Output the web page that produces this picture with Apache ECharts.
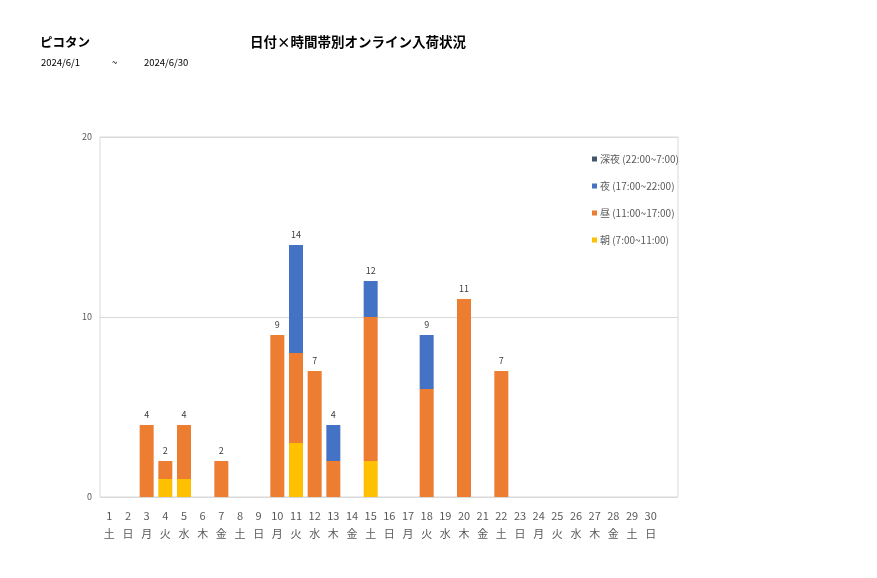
<!DOCTYPE html>
<html lang="ja">
<head>
    <meta charset="UTF-8">
    <title>ピコタン 日付×時間帯別オンライン入荷状況</title>
    <style>
        body { margin: 0; background: #fff; }
    </style>
</head>
<body>
<div id="main" style="width: 877px;height:578px;"></div>
<script src="https://cdn.jsdelivr.net/npm/echarts@6/dist/echarts.min.js"></script>
<script type="text/javascript">
    // 日付と曜日
    var days = [];
    for (var d = 1; d <= 30; d++) days.push(String(d));
    var weekdays = ['土','日','月','火','水','木','金','土','日','月','火','水','木','金','土','日','月','火','水','木','金','土','日','月','火','水','木','金','土','日'];

    // 時間帯別の件数
    var asa    = [0,0,0,1,1,0,0,0,0,0,3,0,0,0,2,0,0,0,0,0,0,0,0,0,0,0,0,0,0,0];
    var hiru   = [0,0,4,1,3,0,2,0,0,9,5,7,2,0,8,0,0,6,0,11,0,7,0,0,0,0,0,0,0,0];
    var yoru   = [0,0,0,0,0,0,0,0,0,0,6,0,2,0,2,0,0,3,0,0,0,0,0,0,0,0,0,0,0,0];
    var shinya = [0,0,0,0,0,0,0,0,0,0,0,0,0,0,0,0,0,0,0,0,0,0,0,0,0,0,0,0,0,0];

    var yTicks = [0, 10, 20];

    var totals = days.map(function (_, i) {
        return asa[i] + hiru[i] + yoru[i] + shinya[i];
    });

    var myChart = echarts.init(document.getElementById('main'));
    var txt = '#595959';
    var font = 'Noto Sans CJK JP';

    function bar(name, data, color) {
        return {
            name: name, type: 'bar', stack: 'total', data: data,
            xAxisIndex: 1, yAxisIndex: 1,
            barWidth: 14,
            itemStyle: {color: color},
            emphasis: {disabled: true}
        };
    }

    // 一番上の系列に合計値ラベルを付ける
    var topSeries = bar('深夜 (22:00~7:00)', shinya, '#44546A');
    topSeries.label = {
        show: true, position: 'top', distance: 6,
        fontSize: 9, color: '#404040', fontFamily: font,
        formatter: function (p) { return totals[p.dataIndex] ? String(totals[p.dataIndex]) : ''; }
    };

    myChart.setOption({
        animation: false,
        textStyle: {fontFamily: font},
        title: [
            {text: 'ピコタン', left: 35, top: 31, textStyle: {fontSize: 12.5, fontWeight: 'bold', color: '#000'}},
            {text: '日付×時間帯別オンライン入荷状況', left: 245, top: 30, textStyle: {fontSize: 13.5, fontWeight: 'bold', color: '#000'}},
            {text: '2024/6/1', left: 36, top: 53, textStyle: {fontSize: 9.5, fontWeight: 'normal', color: '#000'}},
            {text: '~', left: 107, top: 53, textStyle: {fontSize: 9.5, fontWeight: 'normal', color: '#000'}},
            {text: '2024/6/30', left: 139, top: 53, textStyle: {fontSize: 9.5, fontWeight: 'normal', color: '#000'}}
        ],
        legend: {
            orient: 'vertical', left: 587, top: 149, itemGap: 17,
            itemWidth: 5, itemHeight: 5, icon: 'rect',
            textStyle: {fontSize: 10, color: txt, padding: [0, 0, 0, -2]},
            data: ['深夜 (22:00~7:00)', '夜 (17:00~22:00)', '昼 (11:00~17:00)', '朝 (7:00~11:00)']
        },
        grid: [
            {left: 100, right: 199, top: 137, bottom: 81, show: true, borderColor: '#d9d9d9', borderWidth: 1},
            {left: 100, width: 560, top: 137, bottom: 81}
        ],
        xAxis: [
            {type: 'value', gridIndex: 0, show: false},
            {
                type: 'category', gridIndex: 1, data: days,
                axisLine: {show: false}, axisTick: {show: false},
                axisLabel: {
                    margin: 10, fontSize: 11, color: txt, lineHeight: 18, interval: 0,
                    formatter: function (v, i) { return v + '\n' + weekdays[i]; }
                }
            }
        ],
        yAxis: [
            {
                type: 'value', gridIndex: 0, min: 0, max: 20, interval: 10,
                axisLine: {show: false}, axisTick: {show: false},
                axisLabel: {fontSize: 9, color: txt, margin: 8,
                    formatter: function (v) { return yTicks.indexOf(v) >= 0 ? String(v) : ''; }},
                splitLine: {lineStyle: {color: '#d9d9d9'}}
            },
            {type: 'value', gridIndex: 1, min: 0, max: 20, show: false}
        ],
        series: [
            bar('朝 (7:00~11:00)', asa, '#FFC000'),
            bar('昼 (11:00~17:00)', hiru, '#ED7D31'),
            bar('夜 (17:00~22:00)', yoru, '#4472C4'),
            topSeries
        ]
    });
</script>
</body>
</html>
